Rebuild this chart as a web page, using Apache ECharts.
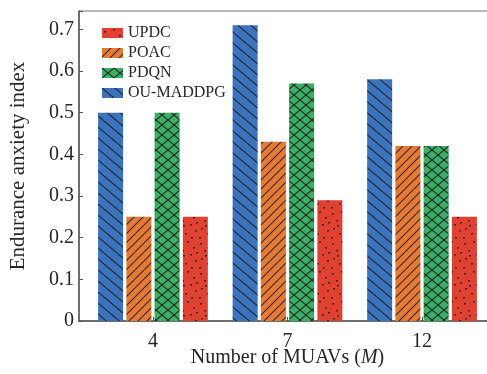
<!DOCTYPE html>
<html><head><meta charset="utf-8">
<script src="https://cdn.jsdelivr.net/npm/echarts@6/dist/echarts.min.js"></script>
<style>html,body{margin:0;padding:0;background:#fff}#c{width:487px;height:374px}</style>
</head><body><div id="c"></div>
<script>
// ---- data ----
const categories = ['4', '7', '12'];
const ouMaddpg = [0.50, 0.71, 0.58];
const poac = [0.25, 0.43, 0.42];
const pdqn = [0.50, 0.57, 0.42];
const updc = [0.25, 0.29, 0.25];
const yTickLabels = ['0', '0.1', '0.2', '0.3', '0.4', '0.5', '0.6', '0.7'];
const legendOrder = ['UPDC', 'POAC', 'PDQN', 'OU-MADDPG'];

// ---- hatch textures (style only) ----
const FONT = 'Liberation Serif';
function tile(w, h, bg, draw) {
  const c = document.createElement('canvas');
  c.width = w; c.height = h;
  const g = c.getContext('2d');
  g.fillStyle = bg; g.fillRect(0, 0, w, h);
  g.strokeStyle = 'rgba(30,30,30,0.9)';
  g.lineWidth = 1.1;
  draw(g, w, h);
  return c;
}
function back(g, w, h) { for (let k = -1; k <= 1; k++) { g.beginPath(); g.moveTo(0, k * h); g.lineTo(w, h + k * h); g.stroke(); } }
function fwd(g, w, h) { for (let k = -1; k <= 1; k++) { g.beginPath(); g.moveTo(0, h + k * h); g.lineTo(w, k * h); g.stroke(); } }
const dotPos = [[2,3],[11,1],[17,7],[6,10],[14,14],[3,18],[19,20],[9,23],[15,27],[1,27],[7,15],[20,12]];
function dots(g, w, h) { g.fillStyle = 'rgba(40,20,18,0.85)'; dotPos.forEach(p => g.fillRect(p[0], p[1], 2, 1.5)); }

const blueFill = tile(13, 11, '#3b74bd', back);
const orangeFill = tile(9, 9, '#e67a33', fwd);
const greenFill = tile(12, 10, '#3caf66', (g, w, h) => { back(g, w, h); fwd(g, w, h); });
const redFill = tile(22, 30, '#e04131', dots);

function mk(name, arr, img) {
  return {
    name, type: 'bar', barWidth: 25, barGap: '13%',
    itemStyle: { color: { image: img, repeat: 'repeat' } },
    data: arr.map((v, i) => [i + 1, v])
  };
}

const chart = echarts.init(document.getElementById('c'), null, { renderer: 'canvas' });
chart.setOption({
  animation: false,
  backgroundColor: '#fff',
  grid: { left: 79, top: 11, width: 417, height: 310, outerBoundsMode: 'none', containLabel: false,
    show: true, borderColor: '#777', borderWidth: 1, backgroundColor: 'transparent' },
  legend: {
    orient: 'vertical', left: 97, top: 20, itemWidth: 21, itemHeight: 10, itemGap: 4, icon: 'rect',
    data: legendOrder,
    textStyle: { fontFamily: FONT, fontSize: 16, color: '#262626', padding: [0, 0, 0, 0] }
  },
  xAxis: {
    type: 'value', min: 0.45, max: 3.55,
    name: 'Number of MUAVs ({i|M})', nameLocation: 'middle', nameGap: 27, nameMoveOverlap: false,
    nameTextStyle: { fontFamily: FONT, fontSize: 20, color: '#262626',
      rich: { i: { fontFamily: FONT, fontSize: 20, fontStyle: 'italic', color: '#262626' } } },
    axisLine: { show: true, onZero: false, lineStyle: { color: '#555', width: 1.5 } },
    axisTick: { show: true, inside: true, length: 4, customValues: [1, 2, 3], lineStyle: { color: '#555' } },
    axisLabel: { customValues: [1, 2, 3], margin: 11, fontFamily: FONT, fontSize: 20, color: '#262626',
      formatter: v => categories[Math.round(v) - 1] || '' },
    splitLine: { show: false }
  },
  yAxis: {
    type: 'value', min: 0, max: 0.744, interval: 0.1,
    name: 'Endurance anxiety index', nameLocation: 'middle', nameGap: 50, nameMoveOverlap: false,
    nameTextStyle: { fontFamily: FONT, fontSize: 21, color: '#262626' },
    axisLine: { show: true, lineStyle: { color: '#555', width: 1.5 } },
    axisTick: { show: true, inside: true, length: 4, lineStyle: { color: '#555' } },
    axisLabel: { margin: 5, fontFamily: FONT, fontSize: 20, color: '#262626',
      formatter: v => { const i = Math.round(v * 10); return Math.abs(v * 10 - i) < 1e-6 && i < yTickLabels.length ? yTickLabels[i] : ''; } },
    splitLine: { show: false }
  },
  series: [
    mk('OU-MADDPG', ouMaddpg, blueFill),
    mk('POAC', poac, orangeFill),
    mk('PDQN', pdqn, greenFill),
    mk('UPDC', updc, redFill)
  ]
});
</script>
</body></html>
